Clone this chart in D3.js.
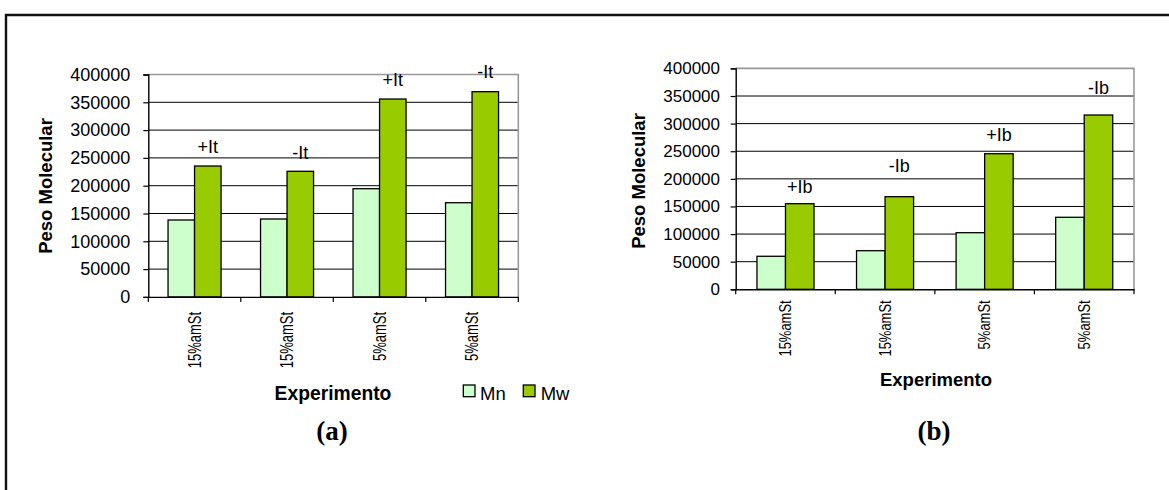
<!DOCTYPE html>
<html>
<head>
<meta charset="utf-8">
<script src="https://cdn.jsdelivr.net/npm/d3@7"></script>
<style>
  html, body { margin: 0; padding: 0; background: #fff; }
  svg { display: block; }
  text { font-family: "Liberation Sans", Arial, sans-serif; fill: #000; }
</style>
</head>
<body>
<svg id="chart" width="1169" height="490"></svg>
<script>
// ---------- DATA ----------
const categories = ["15%amSt", "15%amSt", "5%amSt", "5%amSt"];
const seriesNames = ["Mn", "Mw"];
const mnA = [138300, 140100, 194600, 169400];
const mwA = [235400, 225900, 355900, 369100];
const labelsA = ["+It", "-It", "+It", "-It"];
const mnB = [59800, 69900, 102500, 130400];
const mwB = [155000, 167700, 245500, 315600];
const labelsB = ["+Ib", "-Ib", "+Ib", "-Ib"];
const yTicks = [0, 50000, 100000, 150000, 200000, 250000, 300000, 350000, 400000];
const yTitle = "Peso Molecular";
const xTitle = "Experimento";
const panelTags = ["(a)", "(b)"];

// ---------- STYLE ----------
const colors = { Mn: "#CCFFCC", Mw: "#99CC00" };

const svg = d3.select("#chart");

// outer frame
svg.append("path")
  .attr("d", "M6,490 L6,15 L1169,15")
  .attr("fill", "none").attr("stroke", "#111").attr("stroke-width", 2.4);

function drawChart(cfg) {
  const g = svg.append("g");
  const idx = categories.map((d, i) => i);
  const x = d3.scaleBand().domain(idx).range([cfg.x0, cfg.x1]).padding(0);
  const xs = d3.scaleBand().domain(seriesNames).range([0, x.bandwidth()])
    .paddingInner(0).paddingOuter(0.745);
  const y = d3.scaleLinear().domain([0, 400000]).range([cfg.yBot, cfg.yTop]);

  // gridlines
  g.append("g").selectAll("line").data(yTicks.filter(v => v > 0 && v < 400000)).join("line")
    .attr("x1", cfg.x0).attr("x2", cfg.x1)
    .attr("y1", d => y(d)).attr("y2", d => y(d))
    .attr("stroke", "#000").attr("stroke-width", 1);

  // plot border (top/right) grey
  g.append("path")
    .attr("d", `M${cfg.x0},${y(400000)} L${cfg.x1},${y(400000)} L${cfg.x1},${cfg.yBot}`)
    .attr("fill", "none").attr("stroke", "#999").attr("stroke-width", 1.6);

  // bars
  const rows = idx.map(i => ({ i, Mn: cfg.mn[i], Mw: cfg.mw[i] }));
  const grp = g.append("g").selectAll("g").data(rows).join("g")
    .attr("transform", d => `translate(${x(d.i)},0)`);
  grp.selectAll("rect").data(d => seriesNames.map(s => ({ s, v: d[s] }))).join("rect")
    .attr("x", d => xs(d.s))
    .attr("width", xs.bandwidth())
    .attr("y", d => y(d.v))
    .attr("height", d => y(0) - y(d.v))
    .attr("fill", d => colors[d.s])
    .attr("stroke", "#000").attr("stroke-width", 1.3);

  // bar labels above Mw
  g.append("g").selectAll("text").data(rows).join("text")
    .attr("x", d => x(d.i) + xs("Mw") + xs.bandwidth() / 2)
    .attr("y", (d, k) => y(d.Mw) - cfg.labelLift[k])
    .attr("text-anchor", "middle")
    .style("font-size", "18px")
    .text((d, k) => cfg.labels[k]);

  // y axis
  const ya = g.append("g").attr("transform", `translate(${cfg.x0},0)`)
    .call(d3.axisLeft(y).tickValues(yTicks).tickFormat(d3.format("d"))
      .tickSize(5).tickPadding(cfg.tickPad));
  ya.select(".domain").attr("stroke", "#000").attr("stroke-width", 1.4);
  ya.selectAll(".tick line").attr("stroke", "#000").attr("stroke-width", 1.2);
  ya.selectAll(".tick text").style("font-size", cfg.yFont + "px")
    .style("font-family", "'Liberation Sans', Arial, sans-serif").attr("fill", "#000");

  // x axis
  const xa = g.append("g").attr("transform", `translate(0,${cfg.yBot})`)
    .call(d3.axisBottom(x).tickSize(0).tickFormat(i => categories[i]));
  xa.select(".domain").attr("stroke", "#000").attr("stroke-width", 1.4);
  xa.selectAll(".tick text")
    .attr("transform", `rotate(-90) scale(1,${cfg.xLabelThick})`)
    .attr("x", -cfg.xLabelGap).attr("y", 0).attr("dy", "0.35em")
    .attr("text-anchor", "end")
    .style("font-size", "13px")
    .style("font-family", "'Liberation Sans', Arial, sans-serif").attr("fill", "#000");
  // category boundary ticks
  g.append("g").selectAll("line").data(d3.range(categories.length + 1)).join("line")
    .attr("x1", k => cfg.x0 + k * x.step()).attr("x2", k => cfg.x0 + k * x.step())
    .attr("y1", cfg.yBot).attr("y2", cfg.yBot + 5)
    .attr("stroke", "#000").attr("stroke-width", 1.2);

  // axis titles
  g.append("text")
    .attr("transform", `translate(${cfg.yTitleX},${cfg.yTitleY}) rotate(-90)`)
    .attr("text-anchor", "middle").attr("dy", "0.35em")
    .style("font-size", "18.5px").style("font-weight", "bold")
    .text(yTitle);
  g.append("text")
    .attr("x", cfg.xTitleX).attr("y", cfg.xTitleY)
    .attr("text-anchor", "middle")
    .style("font-size", cfg.xTitleFont + "px").style("font-weight", "bold")
    .text(xTitle);

  // panel tag
  g.append("text")
    .attr("x", cfg.tagX).attr("y", 440)
    .attr("text-anchor", "middle")
    .style("font-family", "'Liberation Serif', 'Times New Roman', serif")
    .style("font-size", "27px").style("font-weight", "bold")
    .text(cfg.tag);
}

drawChart({
  x0: 148.3, x1: 518.3, yTop: 74.5, yBot: 296.9,
  mn: mnA, mw: mwA, labels: labelsA, labelLift: [13, 12, 13, 13.4],
  tickPad: 13, yFont: 18, xLabelGap: 15, xLabelThick: 1.4,
  yTitleX: 46, yTitleY: 186, xTitleX: 333, xTitleY: 400, xTitleFont: 19.3,
  tagX: 332, tag: panelTags[0]
});

drawChart({
  x0: 735.7, x1: 1134, yTop: 68.4, yBot: 289.3,
  mn: mnB, mw: mwB, labels: labelsB, labelLift: [11, 25, 13, 21],
  tickPad: 10.7, yFont: 17, xLabelGap: 11, xLabelThick: 1.2,
  yTitleX: 638.5, yTitleY: 181, xTitleX: 936, xTitleY: 386, xTitleFont: 18.5,
  tagX: 934, tag: panelTags[1]
});

// legend (left chart)
const legend = svg.append("g");
const legendItems = [
  { s: "Mn", bx: 463.3, tx: 480 },
  { s: "Mw", bx: 523.3, tx: 540.7 }
];
legend.selectAll("rect").data(legendItems).join("rect")
  .attr("x", d => d.bx).attr("y", 385).attr("width", 11.7).attr("height", 11.7)
  .attr("fill", d => colors[d.s]).attr("stroke", "#000").attr("stroke-width", 1.3);
legend.selectAll("text").data(legendItems).join("text")
  .attr("x", d => d.tx).attr("y", 400)
  .style("font-size", "18.5px")
  .text(d => d.s);
</script>
</body>
</html>
